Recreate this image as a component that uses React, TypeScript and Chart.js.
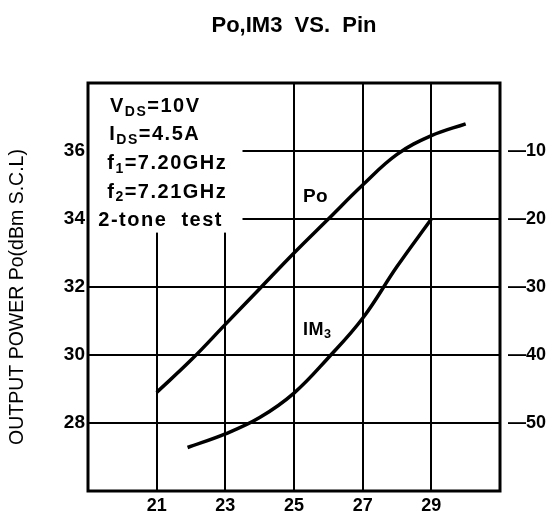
import React, { useEffect, useRef } from "react";
import { Chart, registerables } from "chart.js";

Chart.register(...registerables);

const FAMILY = "'Liberation Sans', Arial, Helvetica, sans-serif";

// ---- data ----
const titleText = "Po,IM3  VS.  Pin";
const yTitleText = "OUTPUT POWER Po(dBm S.C.L)";

const pinPo = [21, 22, 23, 24, 25, 26, 27, 28, 29, 30];
const poValues = [28.9, 29.85, 30.9, 31.95, 33.0, 34.0, 35.0, 35.9, 36.45, 36.8];

const pinIm3 = [21.9, 23, 24, 25, 26, 27, 28, 29];
const im3Values = [-53.6, -51.6, -49.2, -45.6, -40.4, -34.6, -27.0, -20.0];

const xRange = [19, 31];
const poRange = [26, 38];
const im3Range = [-60, 0];

const xTicks = [21, 23, 25, 27, 29];
const poTicks = [28, 30, 32, 34, 36];
const im3Ticks = [-10, -20, -30, -40, -50];

// condition text lines: [text, isSubscript]
const conditionLines: [string, boolean][][] = [
  [["V", false], ["DS", true], ["=10V", false]],
  [["I", false], ["DS", true], ["=4.5A", false]],
  [["f", false], ["1", true], ["=7.20GHz", false]],
  [["f", false], ["2", true], ["=7.21GHz", false]],
  [["2-tone  test", false]],
];
const conditionX = [19.64, 19.62, 19.56, 19.56, 19.3];
const conditionY = [37.15, 36.31, 35.47, 34.63, 33.79];
const conditionBox = { x: 23.5, y: 33.6 };

const poLabel: [string, boolean][] = [["Po", false]];
const poLabelPos = { x: 25.26, y: 34.5 };
const im3Label: [string, boolean][] = [["IM", false], ["3", true]];
const im3LabelPos = { x: 25.26, y: 30.6 };

function drawRich(ctx: CanvasRenderingContext2D, parts: [string, boolean][], x: number, y: number, size: number) {
  let cx = x;
  for (const [text, sub] of parts) {
    const fs = sub ? size * 0.7 : size;
    ctx.font = `bold ${fs}px ${FAMILY}`;
    ctx.fillText(text, cx, y + (sub ? size * 0.18 : 0));
    cx += ctx.measureText(text).width;
  }
}

const decorPlugin = {
  id: "decor",
  beforeDatasetsDraw(chart: any) {
    const { ctx, chartArea, scales } = chart;
    const x = scales.x;
    const y = scales.y;
    ctx.save();
    ctx.fillStyle = "#fff";
    const bx = x.getPixelForValue(conditionBox.x);
    const by = y.getPixelForValue(conditionBox.y);
    ctx.fillRect(chartArea.left, chartArea.top, bx - chartArea.left, by - chartArea.top);
    ctx.fillStyle = "#000";
    ctx.textAlign = "left";
    ctx.textBaseline = "alphabetic";
    (ctx as any).letterSpacing = "1.5px";
    conditionLines.forEach((parts, i) => {
      drawRich(ctx, parts, x.getPixelForValue(conditionX[i]), y.getPixelForValue(conditionY[i]), 20);
    });
    ctx.restore();
  },
  afterDatasetsDraw(chart: any) {
    const { ctx, chartArea, scales } = chart;
    const x = scales.x;
    const y = scales.y;
    ctx.save();
    ctx.strokeStyle = "#000";
    ctx.lineWidth = 3;
    ctx.strokeRect(chartArea.left, chartArea.top, chartArea.right - chartArea.left, chartArea.bottom - chartArea.top);
    ctx.fillStyle = "#000";
    ctx.textAlign = "left";
    ctx.textBaseline = "alphabetic";
    (ctx as any).letterSpacing = "0.5px";
    drawRich(ctx, poLabel, x.getPixelForValue(poLabelPos.x), y.getPixelForValue(poLabelPos.y), 19);
    drawRich(ctx, im3Label, x.getPixelForValue(im3LabelPos.x), y.getPixelForValue(im3LabelPos.y), 18);
    (ctx as any).letterSpacing = "0px";
    ctx.translate(18, (chartArea.top + chartArea.bottom) / 2 + 10);
    ctx.rotate(-Math.PI / 2);
    ctx.textAlign = "center";
    ctx.textBaseline = "middle";
    ctx.font = `19.5px ${FAMILY}`;
    ctx.fillText(yTitleText, 0, 0);
    ctx.restore();
  },
};

export default function App() {
  const ref = useRef<HTMLCanvasElement | null>(null);
  useEffect(() => {
    if (!ref.current) return;
    const tickFont = { family: FAMILY, size: 18, weight: "bold" as const };
    const chart = new Chart(ref.current, {
      type: "line",
      data: {
        datasets: [
          {
            label: "Po",
            data: pinPo.map((v, i) => ({ x: v, y: poValues[i] })),
            borderColor: "#000",
            borderWidth: 3.5,
            pointRadius: 0,
            tension: 0.4,
            yAxisID: "y",
            fill: false,
          },
          {
            label: "IM3",
            data: pinIm3.map((v, i) => ({ x: v, y: im3Values[i] })),
            borderColor: "#000",
            borderWidth: 3.5,
            pointRadius: 0,
            tension: 0.4,
            yAxisID: "y2",
            fill: false,
          },
        ],
      },
      options: {
        responsive: false,
        maintainAspectRatio: false,
        animation: false,
        layout: { padding: 0 },
        plugins: {
          legend: { display: false },
          tooltip: { enabled: false },
          title: {
            display: true,
            text: titleText,
            fullSize: false,
            color: "#000",
            font: { family: FAMILY, size: 22, weight: "bold" },
            padding: { top: 13, bottom: 43.6 },
          },
        },
        scales: {
          x: {
            type: "linear",
            min: xRange[0],
            max: xRange[1],
            afterBuildTicks: (s: any) => {
              s.ticks = xTicks.map((value) => ({ value }));
            },
            afterFit: (s: any) => {
              s.height = 22;
            },
            grid: { color: "#000", lineWidth: 2, drawTicks: false },
            border: { display: false },
            ticks: { color: "#000", font: tickFont, padding: 4, maxRotation: 0, autoSkip: false },
          },
          y: {
            type: "linear",
            position: "left",
            min: poRange[0],
            max: poRange[1],
            afterBuildTicks: (s: any) => {
              s.ticks = poTicks.map((value) => ({ value }));
            },
            afterFit: (s: any) => {
              s.width = 88;
            },
            grid: { color: "#000", lineWidth: 2, drawTicks: false },
            border: { display: false },
            ticks: { color: "#000", font: { ...tickFont, size: 19 }, padding: 3, autoSkip: false },
          },
          y2: {
            type: "linear",
            position: "right",
            min: im3Range[0],
            max: im3Range[1],
            afterBuildTicks: (s: any) => {
              s.ticks = im3Ticks.map((value) => ({ value }));
            },
            afterFit: (s: any) => {
              s.width = 51;
            },
            grid: { drawOnChartArea: false, drawTicks: false },
            border: { display: false },
            ticks: {
              color: "#000",
              font: tickFont,
              padding: 8,
              autoSkip: false,
              callback: (v: any) => "\u2014" + Math.abs(Number(v)),
            },
          },
        },
      },
      plugins: [decorPlugin],
    });
    return () => chart.destroy();
  }, []);
  return (
    <div style={{ position: "fixed", left: 0, top: 0, width: 551, height: 513, background: "#fff" }}>
      <canvas ref={ref} width={551} height={513} style={{ display: "block" }} />
    </div>
  );
}
